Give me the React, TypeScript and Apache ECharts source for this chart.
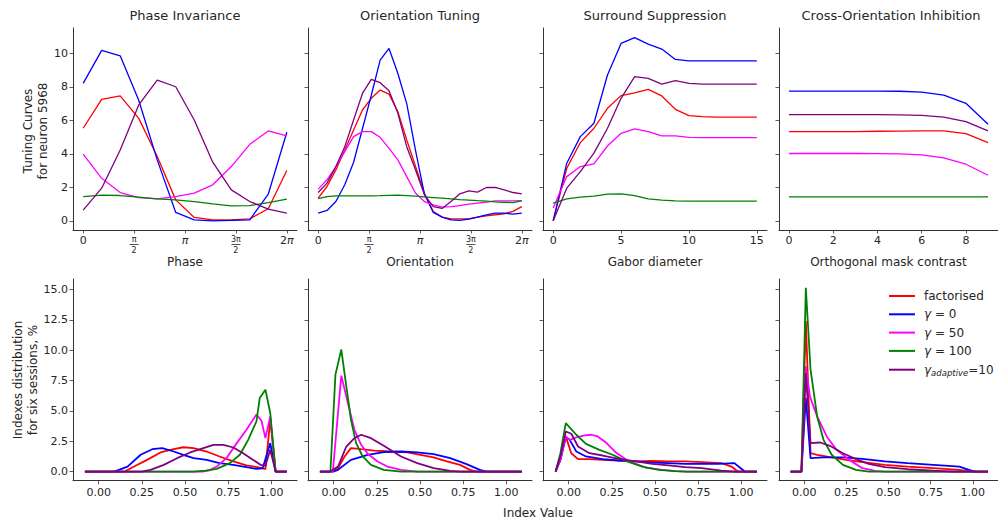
import React, { useEffect, useRef } from "react";
import * as echarts from "echarts";

// ---------- DATA ----------
const seriesNames = ["factorised", "γ = 0", "γ = 50", "γ = 100", "γadaptive=10"];
const seriesColors = ["#ff0000", "#0000ff", "#ff00ff", "#008000", "#800080"];

const panelTitles = ["Phase Invariance", "Orientation Tuning", "Surround Suppression", "Cross-Orientation Inhibition"];
const panelXNames = ["Phase", "Orientation", "Gabor diameter", "Orthogonal mask contrast"];

// Phase invariance (12 phases over 0..2π)
const phaseX = [0, 0.571, 1.142, 1.714, 2.285, 2.856, 3.427, 3.998, 4.570, 5.141, 5.712, 6.283];
const phaseFactorised = [5.53, 7.26, 7.46, 6.12, 3.84, 1.25, 0.2, 0.06, 0.06, 0.12, 0.72, 3.0];
const phaseGamma0 = [8.21, 10.18, 9.86, 7.2, 3.64, 0.5, 0.06, 0.0, 0.02, 0.06, 1.6, 5.29];
const phaseGamma50 = [3.98, 2.54, 1.69, 1.39, 1.31, 1.45, 1.65, 2.15, 3.24, 4.57, 5.37, 5.07];
const phaseGamma100 = [1.45, 1.53, 1.51, 1.41, 1.31, 1.25, 1.15, 1.01, 0.89, 0.91, 1.09, 1.29];
const phaseAdaptive = [0.64, 1.95, 4.23, 6.92, 8.41, 8.01, 6.02, 3.5, 1.85, 1.15, 0.7, 0.46];

// Orientation tuning (24 orientations over 0..2π)
const orientX = [0, 0.273, 0.546, 0.820, 1.093, 1.366, 1.639, 1.912, 2.186, 2.459, 2.732, 3.005, 3.278, 3.551, 3.825, 4.098, 4.371, 4.644, 4.917, 5.190, 5.464, 5.737, 6.010, 6.283];
const orientFactorised = [1.35, 2.05, 3.04, 4.23, 5.43, 6.62, 7.32, 7.81, 7.57, 6.52, 4.83, 3.24, 1.65, 0.56, 0.22, 0.12, 0.12, 0.12, 0.22, 0.3, 0.36, 0.42, 0.56, 0.85];
const orientGamma0 = [0.46, 0.62, 1.15, 2.15, 3.5, 5.5, 7.5, 9.6, 10.3, 8.8, 7.0, 4.2, 1.6, 0.5, 0.22, 0.06, 0.02, 0.1, 0.22, 0.36, 0.46, 0.46, 0.4, 0.46];
const orientGamma50 = [1.89, 2.45, 3.24, 4.13, 5.03, 5.33, 5.33, 4.99, 4.33, 3.64, 2.64, 1.65, 1.15, 0.95, 0.82, 0.85, 0.91, 0.99, 1.05, 1.11, 1.19, 1.19, 1.19, 1.21];
const orientGamma100 = [1.33, 1.45, 1.49, 1.49, 1.49, 1.49, 1.49, 1.5, 1.52, 1.53, 1.5, 1.47, 1.43, 1.39, 1.35, 1.31, 1.27, 1.24, 1.2, 1.17, 1.13, 1.1, 1.09, 1.19];
const orientAdaptive = [1.69, 2.25, 3.24, 4.43, 6.02, 7.61, 8.45, 8.25, 7.77, 6.42, 4.43, 3.04, 1.55, 0.85, 0.74, 1.15, 1.61, 1.79, 1.71, 1.99, 1.99, 1.85, 1.69, 1.61];

// Surround suppression (Gabor diameter 0..15)
const surroundX = [0, 1, 2, 3, 4, 5, 6, 7, 8, 9, 10, 11, 12, 13, 14, 15];
const surroundFactorised = [0, 3.14, 4.67, 5.53, 6.72, 7.48, 7.65, 7.85, 7.46, 6.66, 6.28, 6.22, 6.2, 6.2, 6.2, 6.2];
const surroundGamma0 = [0, 3.44, 5.03, 5.83, 8.71, 10.6, 10.95, 10.56, 10.26, 9.64, 9.56, 9.56, 9.56, 9.56, 9.56, 9.56];
const surroundGamma50 = [0.76, 2.64, 3.24, 3.4, 4.47, 5.23, 5.49, 5.33, 5.07, 5.07, 4.99, 4.97, 4.97, 4.97, 4.97, 4.97];
const surroundGamma100 = [1.05, 1.31, 1.41, 1.47, 1.59, 1.61, 1.51, 1.31, 1.23, 1.19, 1.17, 1.17, 1.17, 1.17, 1.17, 1.17];
const surroundAdaptive = [0, 1.95, 2.94, 4.04, 5.53, 7.32, 8.61, 8.51, 8.17, 8.37, 8.21, 8.17, 8.17, 8.17, 8.17, 8.17];

// Cross-orientation inhibition (mask contrast 0..9)
const crossX = [0, 1, 2, 3, 4, 5, 6, 7, 8, 9];
const crossFactorised = [5.33, 5.33, 5.33, 5.33, 5.35, 5.36, 5.37, 5.37, 5.21, 4.67];
const crossGamma0 = [7.75, 7.75, 7.75, 7.75, 7.75, 7.74, 7.69, 7.51, 7.02, 5.77];
const crossGamma50 = [4.02, 4.02, 4.02, 4.02, 4.01, 4.0, 3.94, 3.76, 3.38, 2.72];
const crossGamma100 = [1.43, 1.43, 1.43, 1.43, 1.43, 1.43, 1.43, 1.43, 1.43, 1.43];
const crossAdaptive = [6.34, 6.34, 6.34, 6.34, 6.34, 6.33, 6.3, 6.2, 5.92, 5.37];

// Index distributions: [index value, percent]
const phaseIdxFactorised = [[-0.08, 0], [0.15, 0], [0.205, 0.41], [0.28, 0.96], [0.358, 1.57], [0.435, 1.84], [0.489, 2.0], [0.55, 1.93], [0.626, 1.65], [0.7, 1.24], [0.78, 0.83], [0.856, 0.5], [0.933, 0.33], [0.966, 0.19], [0.994, 4.3], [1.025, 0], [1.09, 0]];
const phaseIdxGamma0 = [[-0.08, 0], [0.09, 0], [0.167, 0.41], [0.243, 1.38], [0.31, 1.84], [0.368, 1.93], [0.435, 1.65], [0.49, 1.38], [0.55, 1.1], [0.626, 0.96], [0.7, 0.69], [0.78, 0.55], [0.856, 0.36], [0.914, 0.22], [0.95, 0.27], [0.994, 2.34], [1.025, 0], [1.09, 0]];
const phaseIdxGamma50 = [[-0.08, 0], [0.6, 0], [0.64, 0.1], [0.684, 0.41], [0.74, 1.1], [0.8, 2.34], [0.856, 3.44], [0.914, 4.7], [0.943, 4.18], [0.966, 2.75], [0.994, 4.54], [1.025, 0], [1.09, 0]];
const phaseIdxGamma100 = [[-0.08, 0], [0.55, 0], [0.62, 0.08], [0.684, 0.22], [0.76, 0.69], [0.818, 1.38], [0.866, 2.61], [0.914, 4.13], [0.933, 6.05], [0.966, 6.74], [0.994, 4.82], [1.025, 0], [1.09, 0]];
const phaseIdxAdaptive = [[-0.08, 0], [0.25, 0], [0.3, 0.14], [0.377, 0.55], [0.454, 1.1], [0.53, 1.57], [0.607, 1.93], [0.665, 2.2], [0.722, 2.2], [0.78, 1.98], [0.837, 1.51], [0.895, 0.96], [0.937, 0.55], [0.966, 0.47], [0.994, 1.79], [1.025, 0], [1.09, 0]];

const orientIdxFactorised = [[-0.08, 0], [-0.02, 0], [0.025, 0.28], [0.063, 1.24], [0.1, 1.93], [0.159, 1.84], [0.235, 1.73], [0.33, 1.65], [0.426, 1.57], [0.503, 1.38], [0.579, 1.16], [0.656, 0.83], [0.732, 0.55], [0.79, 0.14], [0.828, 0], [1.09, 0]];
const orientIdxGamma0 = [[-0.08, 0], [0.0, 0], [0.025, 0.14], [0.1, 0.96], [0.197, 1.38], [0.29, 1.6], [0.39, 1.65], [0.484, 1.57], [0.579, 1.43], [0.675, 1.1], [0.77, 0.61], [0.847, 0.14], [0.885, 0], [1.09, 0]];
const orientIdxGamma50 = [[-0.08, 0], [-0.005, 0], [0.044, 7.9], [0.082, 5.64], [0.12, 3.44], [0.159, 2.2], [0.197, 1.46], [0.254, 0.83], [0.31, 0.41], [0.39, 0.14], [0.484, 0], [1.09, 0]];
const orientIdxGamma100 = [[-0.08, 0], [-0.019, 0], [0.01, 7.98], [0.044, 10.05], [0.073, 7.02], [0.1, 4.27], [0.13, 2.34], [0.168, 1.24], [0.216, 0.55], [0.29, 0.14], [0.39, 0], [1.09, 0]];
const orientIdxAdaptive = [[-0.08, 0], [-0.02, 0], [0.025, 0.41], [0.073, 2.06], [0.12, 2.75], [0.159, 3.03], [0.216, 2.75], [0.29, 2.12], [0.39, 1.24], [0.484, 0.69], [0.579, 0.28], [0.675, 0.05], [0.732, 0], [1.09, 0]];

const surroundIdxFactorised = [[-0.076, 0], [-0.048, 1.24], [-0.017, 2.89], [0.015, 1.51], [0.054, 1.02], [0.12, 1.02], [0.197, 0.96], [0.29, 0.91], [0.39, 0.83], [0.484, 0.88], [0.579, 0.83], [0.675, 0.83], [0.77, 0.77], [0.885, 0.69], [0.943, 0.41], [0.98, 0], [1.09, 0]];
const surroundIdxGamma0 = [[-0.076, 0], [-0.048, 0.96], [-0.017, 2.83], [0.006, 2.61], [0.044, 1.65], [0.1, 1.24], [0.197, 1.02], [0.29, 0.91], [0.39, 0.83], [0.484, 0.74], [0.579, 0.69], [0.675, 0.63], [0.77, 0.63], [0.866, 0.63], [0.96, 0.69], [1.02, 0], [1.09, 0]];
const surroundIdxGamma50 = [[-0.076, 0], [-0.048, 0.96], [-0.017, 2.89], [0.006, 2.61], [0.044, 2.81], [0.092, 2.97], [0.13, 3.03], [0.168, 2.89], [0.216, 2.39], [0.273, 1.57], [0.35, 0.83], [0.446, 0.33], [0.541, 0.14], [0.618, 0.03], [0.68, 0], [1.09, 0]];
const surroundIdxGamma100 = [[-0.076, 0], [-0.048, 1.51], [-0.017, 3.99], [0.044, 3.03], [0.1, 2.28], [0.178, 1.79], [0.254, 1.38], [0.33, 0.88], [0.426, 0.41], [0.522, 0.14], [0.618, 0.03], [0.68, 0], [1.09, 0]];
const surroundIdxAdaptive = [[-0.076, 0], [-0.048, 1.24], [-0.017, 3.3], [0.015, 3.11], [0.054, 2.06], [0.12, 1.51], [0.197, 1.32], [0.29, 1.05], [0.39, 0.83], [0.484, 0.63], [0.579, 0.5], [0.675, 0.36], [0.77, 0.28], [0.885, 0.08], [0.96, 0], [1.09, 0]];

const crossIdxFactorised = [[-0.08, 0], [-0.016, 0], [0.01, 12.39], [0.038, 1.51], [0.077, 1.38], [0.153, 1.18], [0.249, 0.96], [0.345, 0.77], [0.479, 0.55], [0.613, 0.41], [0.766, 0.28], [0.92, 0.14], [1.0, 0], [1.09, 0]];
const crossIdxGamma0 = [[-0.08, 0], [-0.016, 0], [0.01, 6.06], [0.038, 1.1], [0.115, 1.16], [0.23, 1.16], [0.345, 1.05], [0.479, 0.83], [0.613, 0.69], [0.766, 0.55], [0.92, 0.41], [0.977, 0.14], [1.015, 0], [1.09, 0]];
const crossIdxGamma50 = [[-0.08, 0], [-0.016, 0], [0.01, 8.67], [0.034, 6.19], [0.077, 4.54], [0.134, 2.89], [0.192, 1.79], [0.268, 0.96], [0.345, 0.28], [0.421, 0.05], [0.48, 0], [1.09, 0]];
const crossIdxGamma100 = [[-0.08, 0], [-0.016, 0], [0.01, 15.14], [0.038, 8.4], [0.077, 4.54], [0.115, 2.61], [0.163, 1.38], [0.23, 0.55], [0.307, 0.14], [0.383, 0], [1.09, 0]];
const crossIdxAdaptive = [[-0.08, 0], [-0.016, 0], [0.01, 8.12], [0.038, 2.34], [0.096, 2.39], [0.153, 2.12], [0.23, 1.51], [0.307, 1.02], [0.383, 0.63], [0.479, 0.36], [0.613, 0.19], [0.766, 0.08], [0.88, 0], [1.09, 0]];

const tuningYTicks = [0, 2, 4, 6, 8, 10];
const indexYTicks = [0, 2.5, 5, 7.5, 10, 12.5, 15];
const indexXTicks = [0, 0.25, 0.5, 0.75, 1.0];
const angleTicks = [0, Math.PI / 2, Math.PI, (3 * Math.PI) / 2, 2 * Math.PI];
const surroundXTicks = [0, 5, 10, 15];
const crossXTicks = [0, 2, 4, 6, 8];

// ---------- LAYOUT ----------
const FONT = "DejaVu Sans";
const TEXT = "#262626";
const AXIS = "#333333";
const panelLefts = [73, 308, 543, 779];
const panelWidth = 224;
const topRow = { top: 28, height: 202 };
const botRow = { top: 279, height: 201.7 };

const zipXY = (xs: number[], ys: number[]) => xs.map((x, i) => [x, ys[i]]);

const topData = [
  [phaseX, [phaseFactorised, phaseGamma0, phaseGamma50, phaseGamma100, phaseAdaptive]],
  [orientX, [orientFactorised, orientGamma0, orientGamma50, orientGamma100, orientAdaptive]],
  [surroundX, [surroundFactorised, surroundGamma0, surroundGamma50, surroundGamma100, surroundAdaptive]],
  [crossX, [crossFactorised, crossGamma0, crossGamma50, crossGamma100, crossAdaptive]],
] as [number[], number[][]][];

const botData = [
  [phaseIdxFactorised, phaseIdxGamma0, phaseIdxGamma50, phaseIdxGamma100, phaseIdxAdaptive],
  [orientIdxFactorised, orientIdxGamma0, orientIdxGamma50, orientIdxGamma100, orientIdxAdaptive],
  [surroundIdxFactorised, surroundIdxGamma0, surroundIdxGamma50, surroundIdxGamma100, surroundIdxAdaptive],
  [crossIdxFactorised, crossIdxGamma0, crossIdxGamma50, crossIdxGamma100, crossIdxAdaptive],
];

const angleLabel = (v: number) => {
  const k = Math.round((v / Math.PI) * 2);
  if (k === 0) return "0";
  if (k === 1) return "{n|π}\n{b| }\n{d|2}";
  if (k === 2) return "{i|π}";
  if (k === 3) return "{n|3π}\n{b| }\n{d|2}";
  return "2{i|π}";
};

export default function App() {
  const ref = useRef<HTMLDivElement>(null);
  useEffect(() => {
    if (!ref.current) return;
    const chart = echarts.init(ref.current, undefined, { renderer: "svg" });

    const axisBase = {
      axisLine: { show: true, onZero: false, lineStyle: { color: AXIS, width: 1 } },
      axisTick: { show: true, inside: false, length: 3.5, lineStyle: { color: AXIS, width: 0.8 } },
      splitLine: { show: false },
    };
    const labelBase = { color: TEXT, fontSize: 11, fontFamily: FONT };

    const grids: any[] = [];
    const xAxes: any[] = [];
    const yAxes: any[] = [];
    const series: any[] = [];

    const topX = [
      { min: -0.05 * 2 * Math.PI, max: 1.05 * 2 * Math.PI, ticks: angleTicks, fmt: angleLabel },
      { min: -0.05 * 2 * Math.PI, max: 1.05 * 2 * Math.PI, ticks: angleTicks, fmt: angleLabel },
      { min: -0.75, max: 15.75, ticks: surroundXTicks, fmt: (v: number) => String(v) },
      { min: -0.45, max: 9.45, ticks: crossXTicks, fmt: (v: number) => String(v) },
    ];

    for (let p = 0; p < 4; p++) {
      // top row
      const gi = grids.length;
      grids.push({ left: panelLefts[p], width: panelWidth, top: topRow.top, height: topRow.height });
      const tx = topX[p];
      xAxes.push({
        ...axisBase,
        type: "value",
        gridIndex: gi,
        min: tx.min,
        max: tx.max,
        name: panelXNames[p],
        nameLocation: "middle",
        nameGap: 26,
        nameTextStyle: { color: TEXT, fontSize: 12, fontFamily: FONT },
        axisTick: { ...axisBase.axisTick, customValues: tx.ticks },
        axisLabel: {
          ...labelBase,
          margin: 5,
          customValues: tx.ticks,
          formatter: tx.fmt,
          rich: {
            n: { fontSize: 8, lineHeight: 8, color: TEXT, fontFamily: FONT, align: "center" },
            b: { fontSize: 1, lineHeight: 3, width: 9, height: 0.8, backgroundColor: TEXT, align: "center" },
            d: { fontSize: 8, lineHeight: 8, color: TEXT, fontFamily: FONT, align: "center" },
            i: { fontSize: 11, fontStyle: "italic", color: TEXT, fontFamily: FONT },
          },
        },
      });
      yAxes.push({
        ...axisBase,
        type: "value",
        gridIndex: gi,
        min: -0.55,
        max: 11.52,
        axisTick: { ...axisBase.axisTick, customValues: tuningYTicks },
        axisLabel: { ...labelBase, show: p === 0, margin: 5, customValues: tuningYTicks },
      });
      const [xs, ysets] = topData[p];
      ysets.forEach((ys, s) => {
        series.push({
          type: "line",
          name: seriesNames[s],
          xAxisIndex: gi,
          yAxisIndex: gi,
          data: zipXY(xs, ys),
          symbol: "none",
          color: seriesColors[s],
          lineStyle: { width: 1.3, color: seriesColors[s] },
          silent: true,
          z: 2 + s,
        });
      });

      // bottom row
      const bi = grids.length;
      grids.push({ left: panelLefts[p], width: panelWidth, top: botRow.top, height: botRow.height });
      xAxes.push({
        ...axisBase,
        type: "value",
        gridIndex: bi,
        min: -0.149,
        max: 1.149,
        axisTick: { ...axisBase.axisTick, customValues: indexXTicks },
        axisLabel: { ...labelBase, margin: 6, customValues: indexXTicks, formatter: (v: number) => v.toFixed(2) },
      });
      yAxes.push({
        ...axisBase,
        type: "value",
        gridIndex: bi,
        min: -0.755,
        max: 15.86,
        axisTick: { ...axisBase.axisTick, customValues: indexYTicks },
        axisLabel: { ...labelBase, show: p === 0, margin: 5, customValues: indexYTicks, formatter: (v: number) => v.toFixed(1) },
      });
      botData[p].forEach((pts, s) => {
        series.push({
          type: "line",
          name: seriesNames[s],
          xAxisIndex: bi,
          yAxisIndex: bi,
          data: pts,
          symbol: "none",
          color: seriesColors[s],
          lineStyle: { width: 1.8, color: seriesColors[s] },
          silent: true,
          z: 2 + s,
        });
      });
    }

    const titles = panelTitles.map((t, p) => ({
      text: t,
      left: panelLefts[p] + panelWidth / 2,
      top: 9,
      textAlign: "center",
      padding: 0,
      textStyle: { color: TEXT, fontSize: 13, fontWeight: "normal", fontFamily: FONT },
    }));

    chart.setOption({
      animation: false,
      backgroundColor: "#ffffff",
      title: titles,
      grid: grids,
      xAxis: xAxes,
      yAxis: yAxes,
      series,
      legend: {
        show: true,
        orient: "vertical",
        left: 884,
        top: 284,
        itemWidth: 26,
        itemHeight: 2,
        itemGap: 4.3,
        icon: "rect",
        selectedMode: false,
        data: seriesNames,
        formatter: (name: string) => {
          if (name === "γadaptive=10") return "{g|γ}{s|adaptive}=10";
          if (name.startsWith("γ")) return "{g|γ}" + name.slice(1);
          return name;
        },
        textStyle: {
          color: TEXT,
          fontSize: 12,
          fontFamily: FONT,
          lineHeight: 14,
          padding: [0, 0, 0, 4],
          rich: {
            g: { fontSize: 12, fontStyle: "italic", fontFamily: FONT, color: TEXT, lineHeight: 14 },
            s: { fontSize: 8.5, fontStyle: "italic", fontFamily: FONT, color: TEXT, lineHeight: 14, padding: [6, 0, 0, 0] },
          },
        },
      },
      graphic: [
        {
          type: "text",
          x: 35,
          y: 131,
          rotation: Math.PI / 2,
          style: {
            text: "Tuning Curves\nfor neuron 5968",
            fill: TEXT,
            font: `12px "${FONT}"`,
            align: "center",
            verticalAlign: "middle",
            lineHeight: 15,
          },
        },
        {
          type: "text",
          x: 25,
          y: 380,
          rotation: Math.PI / 2,
          style: {
            text: "Indexes distribution\nfor six sessions, %",
            fill: TEXT,
            font: `12px "${FONT}"`,
            align: "center",
            verticalAlign: "middle",
            lineHeight: 15,
          },
        },
        {
          type: "text",
          x: 538,
          y: 513,
          style: {
            text: "Index Value",
            fill: TEXT,
            font: `12px "${FONT}"`,
            align: "center",
            verticalAlign: "middle",
          },
        },
      ],
    });
    return () => chart.dispose();
  }, []);
  return <div ref={ref} style={{ width: 998, height: 521, position: "absolute", left: 0, top: 0 }} />;
}
